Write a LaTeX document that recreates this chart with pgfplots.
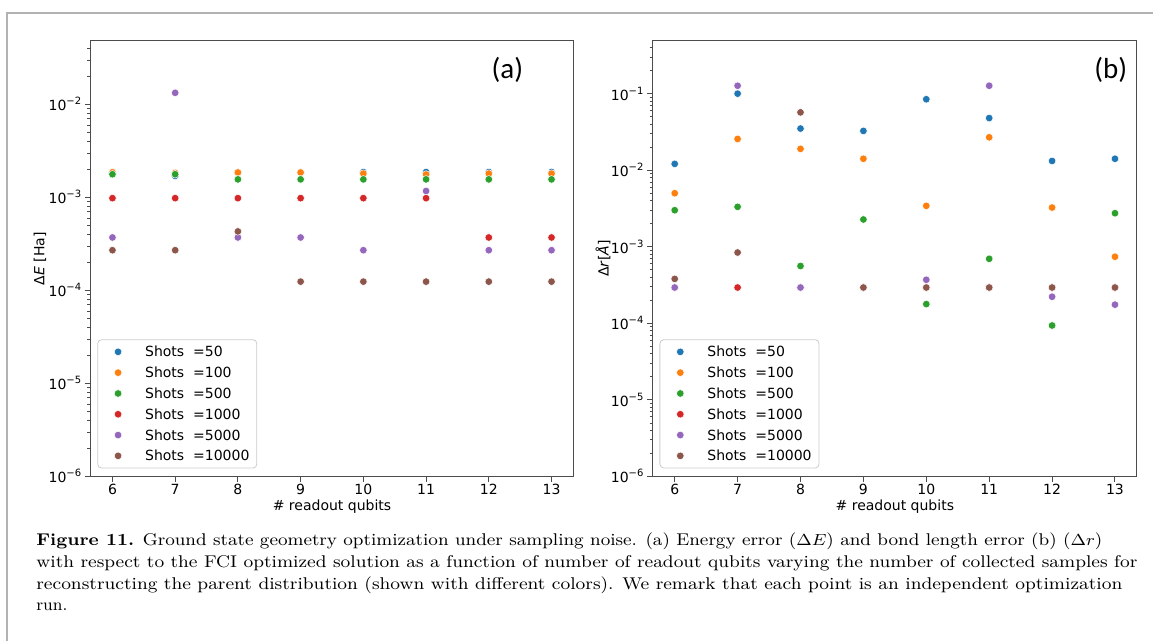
\documentclass[border=0pt]{standalone}
\usepackage{graphicx}
\usepackage{pgfplots}
\pgfplotsset{compat=1.18}
\usepackage{fontspec}
\newfontfamily\dejavu{DejaVu Sans}
\newfontfamily\carlito{Carlito}
\definecolor{tabblue}{HTML}{1F77B4}
\definecolor{taborange}{HTML}{FF7F0E}
\definecolor{tabgreen}{HTML}{2CA02C}
\definecolor{tabred}{HTML}{D62728}
\definecolor{tabpurple}{HTML}{9467BD}
\definecolor{tabbrown}{HTML}{8C564B}
\newcommand{\tickfont}{\dejavu\fontsize{7pt}{8pt}\selectfont}
\pgfplotsset{
  paneaxis/.style={
    scale only axis, height=217.65pt,
    xmin=5.65, xmax=13.35, xtick={6,7,8,9,10,11,12,13},
    tick align=outside, tick pos=left,
    axis line style={black!70, line width=0.5pt},
    major tick length=2.8pt, minor tick length=1.6pt,
    tick style={black!70, line width=0.5pt},
    minor tick style={line width=0.3pt},
    tick label style={font=\tickfont, black},
    xticklabel style={yshift=2.2pt},
    yticklabel style={xshift=2.2pt},
    /pgf/number format/assume math mode=true,
    xlabel={\# readout qubits},
    xlabel style={font=\tickfont, at={(axis description cs:0.5,-0.0705)}, anchor=center},
    legend cell align=left,
    legend style={at={(0.014,0.018)}, anchor=south west, draw=black!20, rounded corners=2pt,
      fill=white, font=\tickfont, inner xsep=3.7pt, inner ysep=0.9pt, row sep=0pt,
      nodes={inner sep=0pt, text height=7.7pt, text depth=2.7pt},
      /tikz/every odd column/.append style={column sep=9.65pt}},
  },
  sc/.style={only marks, mark=*, mark size=1.9pt, color=#1,
    mark options={fill=#1, draw=white, line width=0.25pt}},
}
\begin{document}
\begin{tikzpicture}
\path[use as bounding box] (0pt,0pt) rectangle (576.5pt,320.5pt);
\draw[black!30, line width=1pt] (3.5pt,0pt) -- (3.5pt,314pt) -- (576.5pt,314pt);

% Panel (a)
\begin{axis}[ymode=log, ymin=1e-6, ymax=0.048, paneaxis,
  at={(45.25pt,82.35pt)}, anchor=south west, width=241.5pt,
  legend image code/.code={\path (0pt,0pt) (10pt,0pt); \draw[#1] plot coordinates {(6.3pt,0pt)};},
  ytick={1e-6,1e-5,1e-4,1e-3,1e-2},
  yticklabels={10\textsuperscript{−6},10\textsuperscript{−5},10\textsuperscript{−4},10\textsuperscript{−3},10\textsuperscript{−2}},
  minor ytick={2e-6,3e-6,4e-6,5e-6,6e-6,7e-6,8e-6,9e-6,2e-5,3e-5,4e-5,5e-5,6e-5,7e-5,8e-5,9e-5,2e-4,3e-4,4e-4,5e-4,6e-4,7e-4,8e-4,9e-4,2e-3,3e-3,4e-3,5e-3,6e-3,7e-3,8e-3,9e-3,2e-2,3e-2,4e-2},
  ylabel={Δ\textit{E} [Ha]},
  ylabel style={font=\tickfont, at={(axis description cs:-0.1046,0.5)}, anchor=center},
]
\addplot[sc=tabblue] coordinates {(6,1.85e-3)(7,1.70e-3)(8,1.85e-3)(9,1.85e-3)(10,1.87e-3)(11,1.87e-3)(12,1.87e-3)(13,1.87e-3)};
\addlegendentry{Shots\ \ =50}
\addplot[sc=taborange] coordinates {(6,1.86e-3)(7,1.83e-3)(8,1.85e-3)(9,1.85e-3)(10,1.80e-3)(11,1.76e-3)(12,1.80e-3)(13,1.80e-3)};
\addlegendentry{Shots\ \ =100}
\addplot[sc=tabgreen] coordinates {(6,1.77e-3)(7,1.77e-3)(8,1.56e-3)(9,1.56e-3)(10,1.56e-3)(11,1.56e-3)(12,1.56e-3)(13,1.56e-3)};
\addlegendentry{Shots\ \ =500}
\addplot[sc=tabred] coordinates {(6,9.8e-4)(7,9.8e-4)(8,9.8e-4)(9,9.8e-4)(10,9.8e-4)(11,9.8e-4)(12,3.7e-4)(13,3.7e-4)};
\addlegendentry{Shots\ \ =1000}
\addplot[sc=tabpurple] coordinates {(6,3.7e-4)(7,1.33e-2)(8,3.7e-4)(9,3.7e-4)(10,2.7e-4)(11,1.17e-3)(12,2.7e-4)(13,2.7e-4)};
\addlegendentry{Shots\ \ =5000}
\addplot[sc=tabbrown] coordinates {(6,2.7e-4)(7,2.7e-4)(8,4.3e-4)(9,1.24e-4)(10,1.24e-4)(11,1.24e-4)(12,1.24e-4)(13,1.24e-4)};
\addlegendentry{Shots\ \ =10000}
\node[font=\carlito\fontsize{14.5pt}{16pt}\selectfont, inner sep=0pt] at (rel axis cs:0.863,0.933) {(a)};
\end{axis}

% Panel (b)
\begin{axis}[ymode=log, ymin=1e-6, ymax=0.488, paneaxis,
  at={(326.35pt,82.35pt)}, anchor=south west, width=242.15pt,
  legend image code/.code={\path (0pt,0pt) (10pt,0pt); \draw[#1] plot coordinates {(6.3pt,0pt)};},
  ytick={1e-6,1e-5,1e-4,1e-3,1e-2,1e-1},
  yticklabels={10\textsuperscript{−6},10\textsuperscript{−5},10\textsuperscript{−4},10\textsuperscript{−3},10\textsuperscript{−2},10\textsuperscript{−1}},
  minor ytick={2e-6,3e-6,4e-6,5e-6,6e-6,7e-6,8e-6,9e-6,2e-5,3e-5,4e-5,5e-5,6e-5,7e-5,8e-5,9e-5,2e-4,3e-4,4e-4,5e-4,6e-4,7e-4,8e-4,9e-4,2e-3,3e-3,4e-3,5e-3,6e-3,7e-3,8e-3,9e-3,2e-2,3e-2,4e-2,5e-2,6e-2,7e-2,8e-2,9e-2,2e-1,3e-1,4e-1},
  ylabel={Δ\textit{r}[\textit{Å}]},
  ylabel style={font=\tickfont, at={(axis description cs:-0.1026,0.5)}, anchor=center},
]
\addplot[sc=tabblue] coordinates {(6,0.0121)(7,0.100)(8,0.035)(9,0.0326)(10,0.0845)(11,0.048)(12,0.0132)(13,0.0141)};
\addlegendentry{Shots\ \ =50}
\addplot[sc=taborange] coordinates {(6,0.0050)(7,0.0256)(8,0.019)(9,0.0141)(10,0.00342)(11,0.0269)(12,0.00325)(13,7.4e-4)};
\addlegendentry{Shots\ \ =100}
\addplot[sc=tabgreen] coordinates {(6,0.0030)(7,0.00332)(8,5.6e-4)(9,0.00227)(10,1.78e-4)(11,6.95e-4)(12,9.35e-5)(13,0.00274)};
\addlegendentry{Shots\ \ =500}
\addplot[sc=tabred] coordinates {(6,2.93e-4)(7,2.93e-4)(8,2.93e-4)(9,2.93e-4)(10,2.93e-4)(11,2.93e-4)(12,2.93e-4)(13,2.93e-4)};
\addlegendentry{Shots\ \ =1000}
\addplot[sc=tabpurple] coordinates {(6,2.93e-4)(7,0.127)(8,2.93e-4)(9,2.93e-4)(10,3.7e-4)(11,0.127)(12,2.22e-4)(13,1.75e-4)};
\addlegendentry{Shots\ \ =5000}
\addplot[sc=tabbrown] coordinates {(6,3.8e-4)(7,8.4e-4)(8,0.057)(9,2.93e-4)(10,2.93e-4)(11,2.93e-4)(12,2.93e-4)(13,2.93e-4)};
\addlegendentry{Shots\ \ =10000}
\node[font=\carlito\fontsize{14.5pt}{16pt}\selectfont, inner sep=0pt] at (rel axis cs:0.946,0.933) {(b)};
\end{axis}

% Caption
\begin{scope}[every node/.style={anchor=base west, inner sep=0pt, font=\fontsize{8.5pt}{10.85pt}\selectfont}]
\node at (18pt,47.5pt) {\resizebox{533pt}{\height}{\textbf{Figure 11.} Ground state geometry optimization under sampling noise. (a) Energy error ($\Delta E$) and bond length error (b) ($\Delta r$)}};
\node at (18pt,36.5pt) {\resizebox{550.5pt}{\height}{with respect to the FCI optimized solution as a function of number of readout qubits varying the number of collected samples for}};
\node at (18pt,25.5pt) {\resizebox{543pt}{\height}{reconstructing the parent distribution (shown with different colors). We remark that each point is an independent optimization}};
\node at (18pt,15pt) {run.};
\end{scope}
\end{tikzpicture}
\end{document}
